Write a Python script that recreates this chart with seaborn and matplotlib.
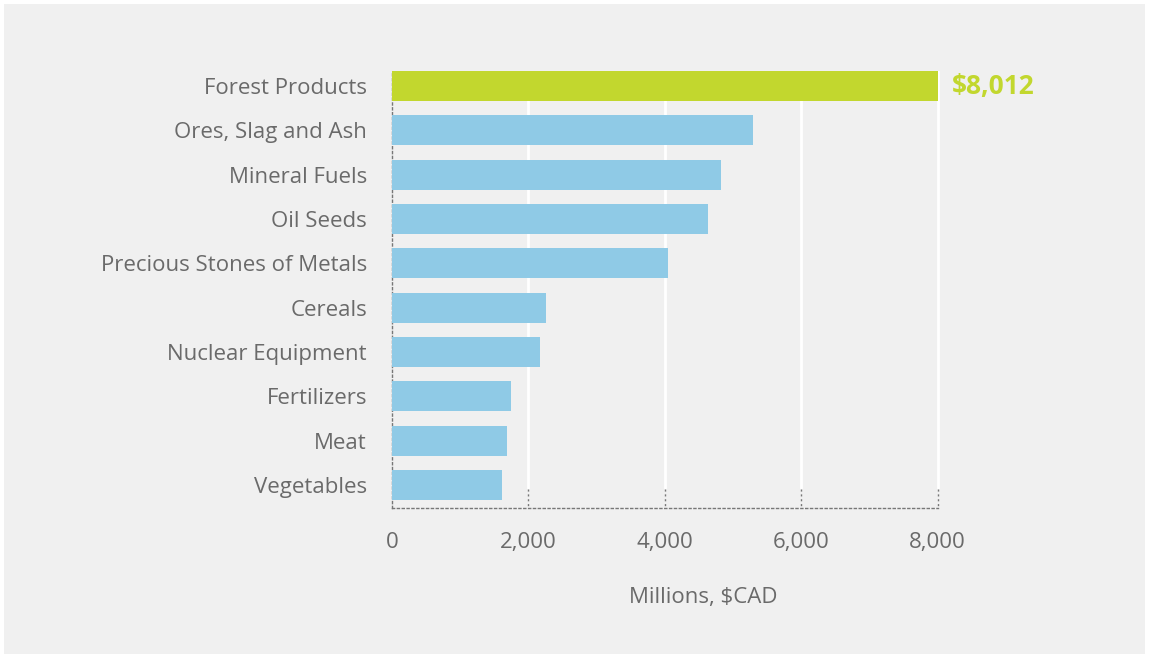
import matplotlib
matplotlib.use("Agg")
import matplotlib.pyplot as plt
import seaborn as sns
import pandas as pd
from matplotlib.patches import Rectangle

# chart data
categories = ['Forest Products', 'Ores, Slag and Ash', 'Mineral Fuels', 'Oil Seeds',
              'Precious Stones of Metals', 'Cereals', 'Nuclear Equipment',
              'Fertilizers', 'Meat', 'Vegetables']
values = [8012, 5300, 4830, 4640, 4040, 2260, 2170, 1740, 1680, 1610]
xticks = [0, 2000, 4000, 6000, 8000]
xtick_labels = ['0', '2,000', '4,000', '6,000', '8,000']
highlight_label = '$8,012'

blue = '#8fcae6'
green = '#c2d72e'
text_gray = '#6a6a6a'
bg = '#f0f0f0'

df = pd.DataFrame({'category': categories, 'value': values})
palette = {c: (green if i == 0 else blue) for i, c in enumerate(categories)}

sns.set_style('white')
plt.rcParams['font.family'] = ['Open Sans', 'DejaVu Sans']

fig = plt.figure(figsize=(11.49, 6.58), dpi=100, facecolor='white')
fig.patches.append(Rectangle((4 / 1149, 4 / 658), 1 - 8 / 1149, 1 - 8 / 658,
                             transform=fig.transFigure, facecolor=bg,
                             edgecolor='none', zorder=-10))
ax = fig.add_axes([392 / 1149, 1 - 508 / 658, (1014 - 392) / 1149, (508 - 71) / 658])
ax.set_zorder(1)
ax.patch.set_alpha(0)

sns.barplot(data=df, x='value', y='category', hue='category', palette=palette,
            legend=False, orient='h', width=0.68, saturation=1, ax=ax, zorder=3,
            linewidth=0, edgecolor='none')

ax.set_xlim(0, 9120)
ax.set_ylim(9.52, -0.34)

# white gridlines, dotted ticks below bars
for x in xticks[1:]:
    ax.axvline(x, ymin=0.045, ymax=1, color='white', lw=2, zorder=1)
ax.vlines(xticks[1:], 9.1, 9.52, colors='#777777', linestyles=(0, (1.5, 2)), lw=1, zorder=2)

for side in ['top', 'right']:
    ax.spines[side].set_visible(False)
for side in ['left', 'bottom']:
    ax.spines[side].set_linestyle((0, (1.5, 2)))
    ax.spines[side].set_color('#777777')
    ax.spines[side].set_linewidth(1)
ax.spines['bottom'].set_bounds(0, 8000)

ax.set_xticks(xticks)
ax.set_xticklabels(xtick_labels)
ax.tick_params(axis='x', length=0, pad=17, labelsize=16, labelcolor=text_gray)
ax.tick_params(axis='y', length=0, pad=18, labelsize=16, labelcolor=text_gray)
ax.set_ylabel('')
ax.set_xlabel('Millions, $CAD', fontsize=16, color=text_gray, labelpad=25)

ax.annotate(highlight_label, xy=(values[0], 0), xytext=(10, 0), textcoords='offset points',
            ha='left', va='center', fontsize=19, fontweight='bold', color=green)

fig.savefig('out.png', dpi=100, facecolor='white')
